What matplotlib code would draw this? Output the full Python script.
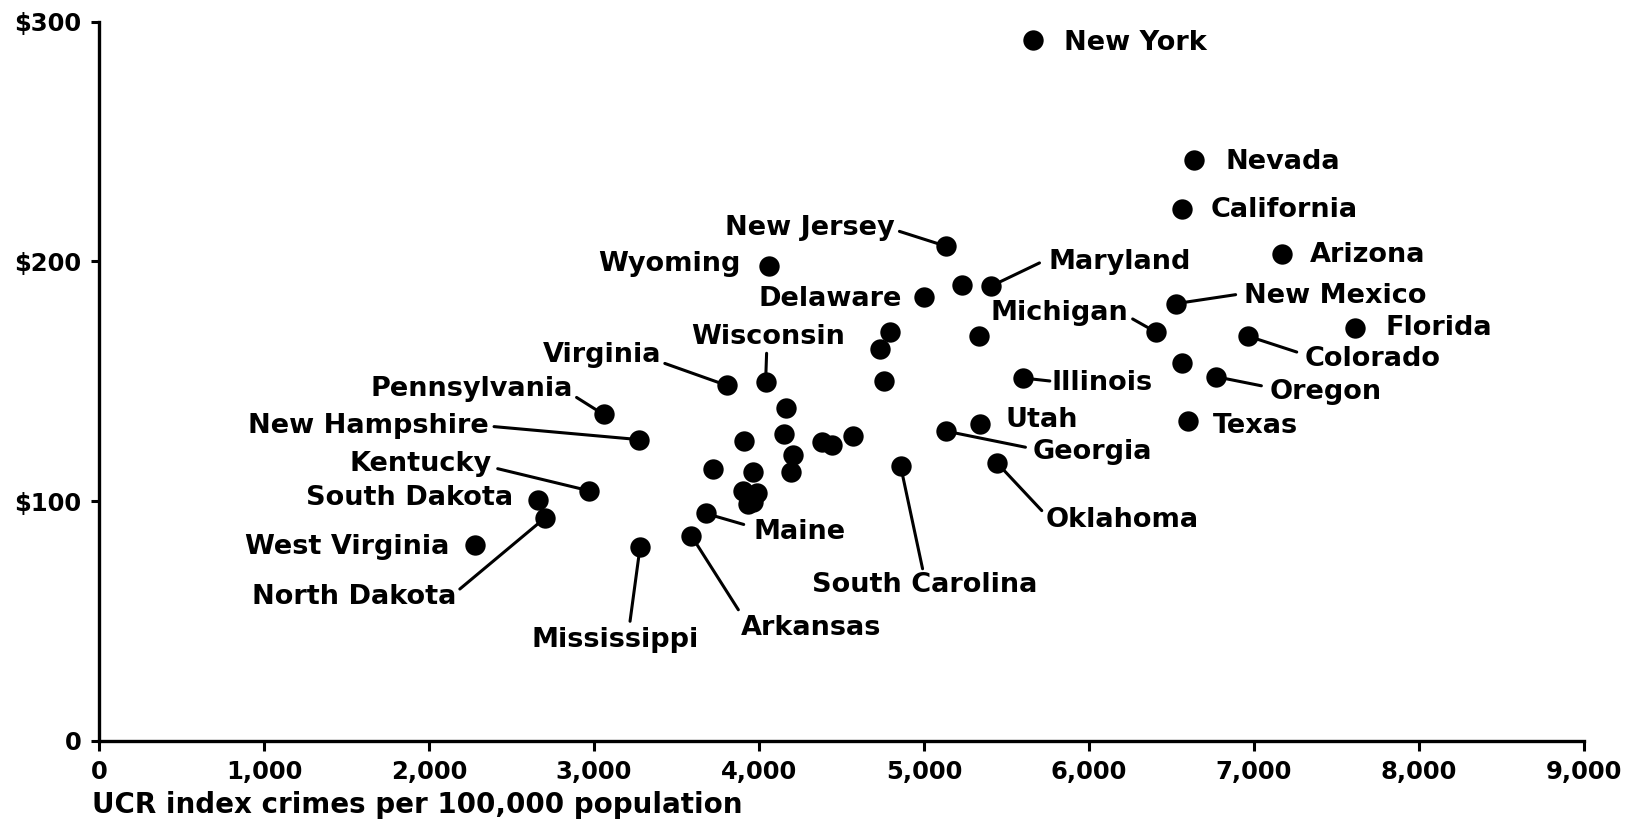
import matplotlib
matplotlib.use("Agg")
import matplotlib.pyplot as plt
from matplotlib.ticker import FuncFormatter

plt.rcParams['font.family'] = ['DejaVu Sans']
plt.rcParams['font.weight'] = 'bold'

# ---- data ----
states = [
    "New York", "Nevada", "California", "Arizona", "New Mexico", "Florida",
    "Colorado", "Michigan", "Oregon", "Texas", "Illinois", "Utah", "Georgia",
    "Oklahoma", "South Carolina", "New Jersey", "Maryland", "Delaware",
    "Wyoming", "Wisconsin", "Virginia", "Pennsylvania", "New Hampshire",
    "Kentucky", "South Dakota", "West Virginia", "North Dakota",
    "Mississippi", "Arkansas", "Maine",
    "", "", "", "", "", "", "", "", "", "", "", "", "", "", "", "", "", "", "", "",
]
crimes = [
    5662, 6639, 6563, 7171, 6525, 7615,
    6962, 6404, 6772, 6601, 5599, 5339, 5136,
    5441, 4858, 5136, 5409, 4997,
    4059, 4040, 3805, 3058, 3273,
    2968, 2658, 2278, 2702,
    3279, 3590, 3677,
    6563, 5232, 5333, 4794, 4731, 4756,
    4164, 3911, 4152, 4571, 4208, 4380, 4441, 3723, 4192, 3962,
    3905, 3986, 3935, 3965,
]
spending = [
    292.2, 242.5, 222.0, 203.3, 182.4, 172.3,
    168.9, 170.6, 151.9, 133.5, 151.4, 132.3, 129.2,
    116.1, 114.8, 206.3, 189.8, 185.0,
    198.0, 149.6, 148.3, 136.2, 125.7,
    104.4, 100.4, 81.7, 93.0,
    80.8, 85.6, 94.9,
    157.5, 190.2, 168.9, 170.6, 163.6, 150.1,
    138.9, 125.0, 128.2, 127.1, 119.4, 124.7, 123.3, 113.6, 112.0, 112.2,
    104.3, 103.6, 98.8, 99.5,
]
x_ticks = [0, 1000, 2000, 3000, 4000, 5000, 6000, 7000, 8000, 9000]
y_ticks = [0, 100, 200, 300]

# ---- label layout (pixel offsets from the point: text dx, dy, align, leader end) ----
layout = {
    "New York":       ((31, -10), "left", None),
    "Nevada":         ((31, -9), "left", None),
    "California":     ((29, -8), "left", None),
    "Arizona":        ((28, -8), "left", None),
    "New Mexico":     ((68, 1), "left", (60, 9)),
    "Florida":        ((30, -7), "left", None),
    "Colorado":       ((57, -30), "left", (49, -16)),
    "Michigan":       ((-27, 12), "right", (-23, 13)),
    "Oregon":         ((53, -22), "left", (45, -9)),
    "Texas":          ((25, -12), "left", None),
    "Illinois":       ((29, -12), "left", (27, -3)),
    "Utah":           ((26, -3), "left", None),
    "Georgia":        ((86, -28), "left", (79, -16)),
    "Oklahoma":       ((49, -64), "left", (45, -48)),
    "South Carolina": ((-89, -126), "left", (22, -103)),
    "New Jersey":     ((-52, 11), "right", (-47, 15)),
    "Maryland":       ((57, 17), "left", (48, 23)),
    "Delaware":       ((-22, -9), "right", None),
    "Wyoming":        ((-28, -5), "right", None),
    "Wisconsin":      ((3, 38), "center", (1, 29)),
    "Virginia":       ((-65, 23), "right", (-62, 22)),
    "Pennsylvania":   ((-31, 18), "right", (-27, 17)),
    "New Hampshire":  ((-150, 7), "right", (-145, 13)),
    "Kentucky":       ((-97, 20), "right", (-91, 22)),
    "South Dakota":   ((-24, -5), "right", None),
    "West Virginia":  ((-25, -9), "right", None),
    "North Dakota":   ((-88, -86), "right", (-85, -71)),
    "Mississippi":    ((-25, -100), "center", (-10, -74)),
    "Arkansas":       ((50, -99), "left", (47, -74)),
    "Maine":          ((48, -26), "left", (38, -11)),
}

W, H = 1640, 823
fig = plt.figure(figsize=(W / 100, H / 100), dpi=100)
ax = fig.add_axes([99 / W, 1 - 741 / H, (1584 - 99) / W, (741 - 21.7) / H])

ax.scatter(crimes, spending, s=215, color="black", zorder=5, linewidths=0)

for name, x, y in zip(states, crimes, spending):
    if not name:
        continue
    (dx, dy), ha, lead = layout[name]
    if lead is not None:
        ax.annotate("", xy=(x, y), xytext=lead, textcoords="offset pixels",
                    arrowprops=dict(arrowstyle="-", color="black", lw=2.2,
                                    shrinkA=0, shrinkB=0), zorder=4)
    ax.annotate(name, xy=(x, y), xytext=(dx, dy), textcoords="offset pixels",
                ha=ha, va="baseline", fontsize=19.5, fontweight="bold",
                color="black", zorder=6)

ax.set_xlim(0, 9000)
ax.set_ylim(0, 300)
ax.set_xticks(x_ticks)
ax.set_yticks(y_ticks)
ax.xaxis.set_major_formatter(FuncFormatter(lambda v, p: f"{int(v):,}"))
ax.yaxis.set_major_formatter(FuncFormatter(lambda v, p: "0" if v == 0 else f"${int(v)}"))

for s in ["top", "right"]:
    ax.spines[s].set_visible(False)
for s in ["left", "bottom"]:
    ax.spines[s].set_linewidth(2.4)
    ax.spines[s].set_color("black")

ax.tick_params(axis="x", direction="out", length=7.2, width=2.2, pad=6.5,
               labelsize=17.5, colors="black")
ax.tick_params(axis="y", direction="out", length=5.8, width=2.2, pad=7,
               labelsize=17.5, colors="black")
for lab in ax.get_xticklabels() + ax.get_yticklabels():
    lab.set_fontweight("bold")

fig.text(92 / W, 1 - 813 / H, "UCR index crimes per 100,000 population",
         ha="left", va="baseline", fontsize=20, fontweight="bold", color="black")

fig.savefig("out.png", dpi=100, facecolor="white")
